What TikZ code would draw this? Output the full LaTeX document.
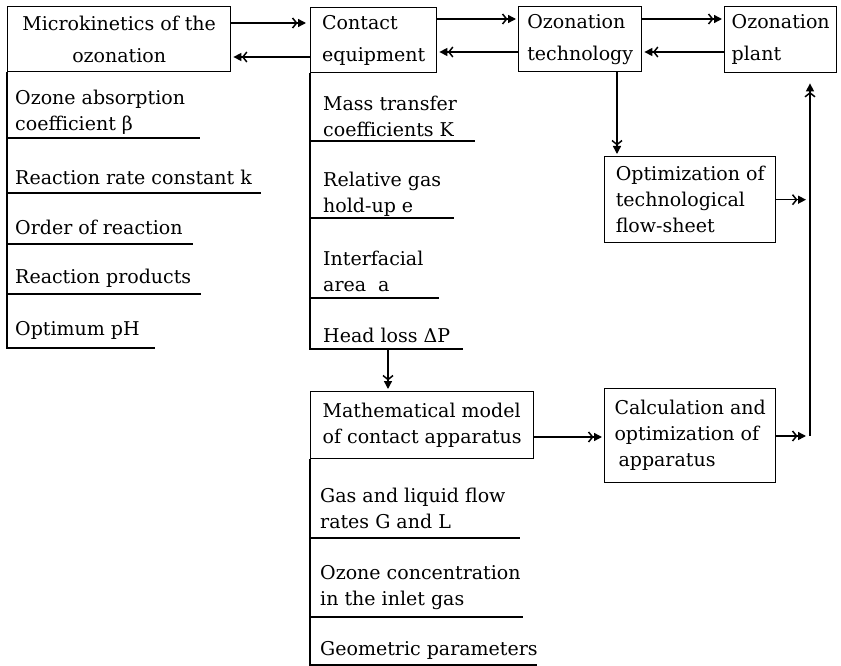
\documentclass[tikz,border=0pt]{standalone}
\usepackage{fontspec}
\setmainfont{DejaVu Serif}
\usetikzlibrary{arrows.meta}
\begin{document}
\begin{tikzpicture}[x=1pt,y=-1pt,
  every node/.style={font=\fontsize{19}{26}\selectfont},
  box/.style={draw, line width=1.4pt, anchor=north west, inner xsep=3pt, inner ysep=0pt, align=left},
  topbox/.style={box, font=\fontsize{19}{32}\selectfont},
  item/.style={anchor=west, align=left, inner sep=0pt},
  rule/.style={line width=1.4pt},
  arr/.style={line width=1.4pt, shorten >=2pt,
    -{Straight Barb[length=4pt,width=10pt,line width=1.5pt,sep=0.5pt] Triangle[length=8pt,width=8pt,fill=black]}}
]
\useasboundingbox (0,0) rectangle (841,666);

% boxes
\node[topbox, align=center, minimum width=223pt, minimum height=65pt] (micro) at (7,6) {Microkinetics of the\\ozonation};
\node[topbox, minimum width=126pt, minimum height=65pt] (contact) at (310,7) {Contact\\equipment};
\node[topbox, minimum width=123pt, minimum height=65pt] (tech) at (518,6) {Ozonation\\technology};
\node[topbox, minimum width=112pt, minimum height=66pt] (plant) at (724,6) {Ozonation\\plant};
\node[box, minimum width=171pt, minimum height=86pt] (opt) at (604,156) {Optimization of\\technological\\flow-sheet};
\node[box, minimum width=223pt, minimum height=67pt] (math) at (310,391) {Mathematical model\\of contact apparatus};
\node[box, minimum width=171pt, minimum height=94pt] (calc) at (604,388) {Calculation and\\optimization of\\\hspace*{4pt}apparatus};

% microkinetics list
\draw[rule] (micro.south west) -- (7,348) -- (155,348);
\node[item] (m1) at (15,112.5) {Ozone absorption\\coefficient β};
\draw[rule] (7,138) -- (200,138);
\node[item] (m2) at (15,177) {Reaction rate constant k};
\draw[rule] (7,193) -- (261,193);
\node[item] (m3) at (15,227) {Order of reaction};
\draw[rule] (7,244) -- (193,244);
\node[item] (m4) at (15,278) {Reaction products};
\draw[rule] (7,294) -- (201,294);
\node[item] (m5) at (15,330) {Optimum pH};

% contact equipment list
\coordinate (hl) at (388,349);
\draw[rule] (contact.south west) -- (310,349) -- (463,349);
\node[item] (c1) at (323,116) {Mass transfer\\coefficients K};
\draw[rule] (310,141) -- (475,141);
\node[item] (c2) at (323,194.5) {Relative gas\\hold-up e};
\draw[rule] (310,218) -- (454,218);
\node[item] (c3) at (323,271.5) {Interfacial\\area\ \ a};
\draw[rule] (310,298) -- (439,298);
\node[item] (c4) at (323,335) {Head loss ΔP};

% mathematical model list
\draw[rule] (math.south west) -- (310,665) -- (537,665);
\node[item] (g1) at (320,508) {Gas and liquid flow\\rates G and L};
\draw[rule] (310,538) -- (520,538);
\node[item] (g2) at (320,587.5) {Ozone concentration\\in the inlet gas};
\draw[rule] (310,617) -- (523,617);
\node[item] (g3) at (320,650) {Geometric parameters};

% connectors
\coordinate (rl) at (810,436);
\draw[arr, shorten >=4pt] (micro.east |- 0,23) -- (contact.west |- 0,23);
\draw[arr] (contact.west |- 0,57) -- (micro.east |- 0,57);
\draw[arr] (contact.east |- 0,19) -- (tech.west |- 0,19);
\draw[arr] (tech.west |- 0,52) -- (contact.east |- 0,52);
\draw[arr] (tech.east |- 0,19) -- (plant.west |- 0,19);
\draw[arr] (plant.west |- 0,52) -- (tech.east |- 0,52);
\draw[arr] (tech.south -| 617,0) -- (opt.north -| 617,0);
\draw[arr] (hl) -- (math.north -| hl);
\draw[arr] (math.east |- 0,437) -- (calc.west |- 0,437);
\draw[arr, shorten >=4pt] (opt.east) -- (opt.east -| rl);
\draw[arr, shorten >=4pt] (calc.east |- rl) -- (rl);
\draw[arr, shorten >=10pt] (rl) -- (plant.south -| rl);
\end{tikzpicture}
\end{document}
